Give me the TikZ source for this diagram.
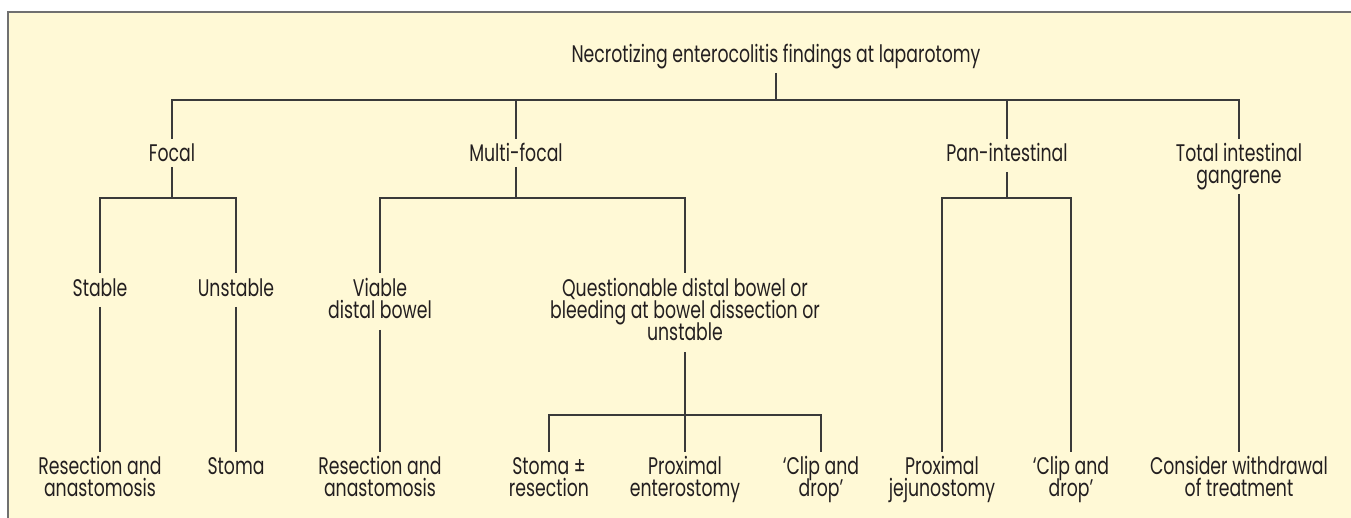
\documentclass[tikz,border=0pt]{standalone}
\usepackage{fontspec}
\setmainfont[FakeStretch=0.72]{Poppins}
\usetikzlibrary{calc}
\definecolor{bg}{HTML}{FFF9D6}
\definecolor{ink}{HTML}{231F20}
\definecolor{rulec}{HTML}{3A3A3A}
\definecolor{framec}{HTML}{707070}
\newcommand\mytightlines{\lineskiplimit=-50pt\relax\lineskip=0pt\relax}
\begin{document}
\begin{tikzpicture}[x=1pt,y=1pt,
  lbl/.style={anchor=base, align=center, inner sep=0pt, text=ink,
    font={\fontsize{24}{22}\selectfont\mytightlines}},
  conn/.style={draw=rulec, line width=1.3pt}]
\useasboundingbox (0,0) rectangle (1351,-518);
\fill[bg] (8,-12) rectangle (1351,-518);
\draw[framec, line width=1.5pt] (8,-518) -- (8,-12) -- (1351,-12);

% labels (anchor = baseline of the last line)
\node[lbl] (root) at (776,-63) {Necrotizing enterocolitis findings at laparotomy};
\node[lbl] (focal) at (172,-162) {Focal};
\node[lbl] (multi) at (516,-162) {Multi-focal};
\node[lbl] (pan) at (1007,-162) {Pan-intestinal};
\node[lbl] (total) at (1239,-184) {Total intestinal\\gangrene};
\node[lbl] (stable) at (100,-297) {Stable};
\node[lbl] (unstable) at (236,-297) {Unstable};
\node[lbl] (viable) at (380,-319) {Viable\\distal bowel};
\node[lbl] (quest) at (685,-341) {Questionable distal bowel or\\bleeding at bowel dissection or\\unstable};
\node[lbl] (resA) at (100,-496) {Resection and\\anastomosis};
\node[lbl] (stomaA) at (236,-474) {Stoma};
\node[lbl] (resB) at (380,-496) {Resection and\\anastomosis};
\node[lbl] (stomaB) at (549,-496) {Stoma ±\\resection};
\node[lbl] (prox) at (685,-496) {Proximal\\enterostomy};
\node[lbl] (clipA) at (821,-496) {‘Clip and\\drop’};
\node[lbl] (jej) at (942,-496) {Proximal\\jejunostomy};
\node[lbl] (clipB) at (1071,-496) {‘Clip and\\drop’};
\node[lbl] (cons) at (1239,-496) {Consider withdrawal\\of treatment};

% junctions
\coordinate (j0) at (776,-100);
\coordinate (jf) at (172,-198);
\coordinate (jm) at (516,-198);
\coordinate (jp) at (1007,-198);
\coordinate (jq) at (685,-415);

% level 0 -> 1
\draw[conn] ([yshift=-10pt]root.base) -- (j0);
\draw[conn] ([yshift=23pt]focal.base) -- (focal.base |- j0) -- (total.base |- j0) -- ([yshift=45pt]total.base);
\draw[conn] (multi.base |- j0) -- ([yshift=23pt]multi.base);
\draw[conn] (pan.base |- j0) -- ([yshift=23pt]pan.base);

% focal
\draw[conn] ([yshift=-5pt]focal.base) -- (jf);
\draw[conn] ([yshift=24pt]stable.base) -- (stable.base |- jf) -- (unstable.base |- jf) -- ([yshift=24pt]unstable.base);
\draw[conn] ([yshift=-10pt]stable.base) -- ([yshift=44pt]resA.base);
\draw[conn] ([yshift=-10pt]unstable.base) -- ([yshift=22pt]stomaA.base);

% multi-focal
\draw[conn] ([yshift=-5pt]multi.base) -- (jm);
\draw[conn] ([yshift=46pt]viable.base) -- (viable.base |- jm) -- (quest.base |- jm) -- ([yshift=68pt]quest.base);
\draw[conn] ([yshift=-11pt]viable.base) -- ([yshift=44pt]resB.base);
\draw[conn] ([yshift=-11pt]quest.base) -- ([yshift=44pt]prox.base);
\draw[conn] ([yshift=44pt]stomaB.base) -- (stomaB.base |- jq) -- (clipA.base |- jq) -- ([yshift=44pt]clipA.base);

% pan-intestinal
\draw[conn] ([yshift=-10pt]pan.base) -- (jp);
\draw[conn] ([yshift=44pt]jej.base) -- (jej.base |- jp) -- (clipB.base |- jp) -- ([yshift=44pt]clipB.base);

% total
\draw[conn] ([yshift=-10pt]total.base) -- ([yshift=44pt]cons.base);
\end{tikzpicture}
\end{document}
